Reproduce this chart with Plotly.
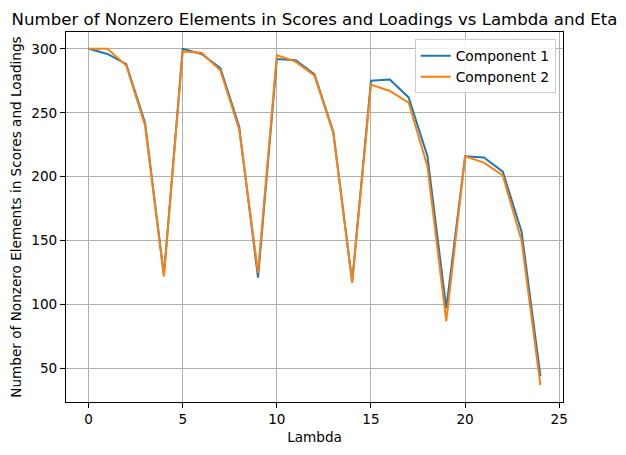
import plotly.graph_objects as go

lambdas = list(range(25))
component_1 = [300, 296, 288, 242, 123, 300, 296, 285, 239, 121,
               292, 291, 280, 235, 118, 275, 276, 262, 216, 97,
               216, 215, 204, 157, 44]
component_2 = [300, 300, 287, 240, 122, 298, 297, 283, 237, 125,
               295, 290, 279, 234, 117, 272, 267, 258, 208, 87,
               216, 211, 201, 150, 37]
x_ticks = [0, 5, 10, 15, 20, 25]
y_ticks = [50, 100, 150, 200, 250, 300]

font = "DejaVu Sans"
fig = go.Figure()
fig.add_trace(go.Scatter(x=lambdas, y=component_1, mode="lines", name="Component 1",
                         line=dict(color="#1f77b4", width=2)))
fig.add_trace(go.Scatter(x=lambdas, y=component_2, mode="lines", name="Component 2",
                         line=dict(color="#ff7f0e", width=2)))

axis_common = dict(showgrid=True, gridcolor="#b0b0b0", gridwidth=1,
                   showline=True, linecolor="black", linewidth=1, mirror=True,
                   ticks="outside", ticklen=5, tickcolor="black", tickwidth=1,
                   zeroline=False, tickfont=dict(family=font, size=13.6, color="black"))

fig.update_layout(
    width=626, height=455,
    margin=dict(l=66, r=63, t=32, b=53),
    plot_bgcolor="white", paper_bgcolor="white",
    title=dict(text="Number of Nonzero Elements in Scores and Loadings vs Lambda and Eta",
               x=0.5, xref="paper", xanchor="center",
               y=1, yref="paper", yanchor="bottom", pad=dict(b=7),
               font=dict(family=font, size=16.6, color="black")),
    xaxis=dict(range=[-1.2, 25.2], tickvals=x_ticks,
               title=dict(text="Lambda", font=dict(family=font, size=13.6, color="black"), standoff=6),
               **axis_common),
    yaxis=dict(range=[23.85, 313.15], tickvals=y_ticks,
               title=dict(text="Number of Nonzero Elements in Scores and Loadings",
                          font=dict(family=font, size=13.6, color="black"), standoff=6),
               **axis_common),
    legend=dict(x=0.9853, y=0.980, xanchor="right", yanchor="top",
                bgcolor="rgba(255,255,255,0.8)", bordercolor="#cccccc", borderwidth=1,
                itemwidth=30, font=dict(family=font, size=13.8, color="black")),
)

fig.write_html("out.html")
